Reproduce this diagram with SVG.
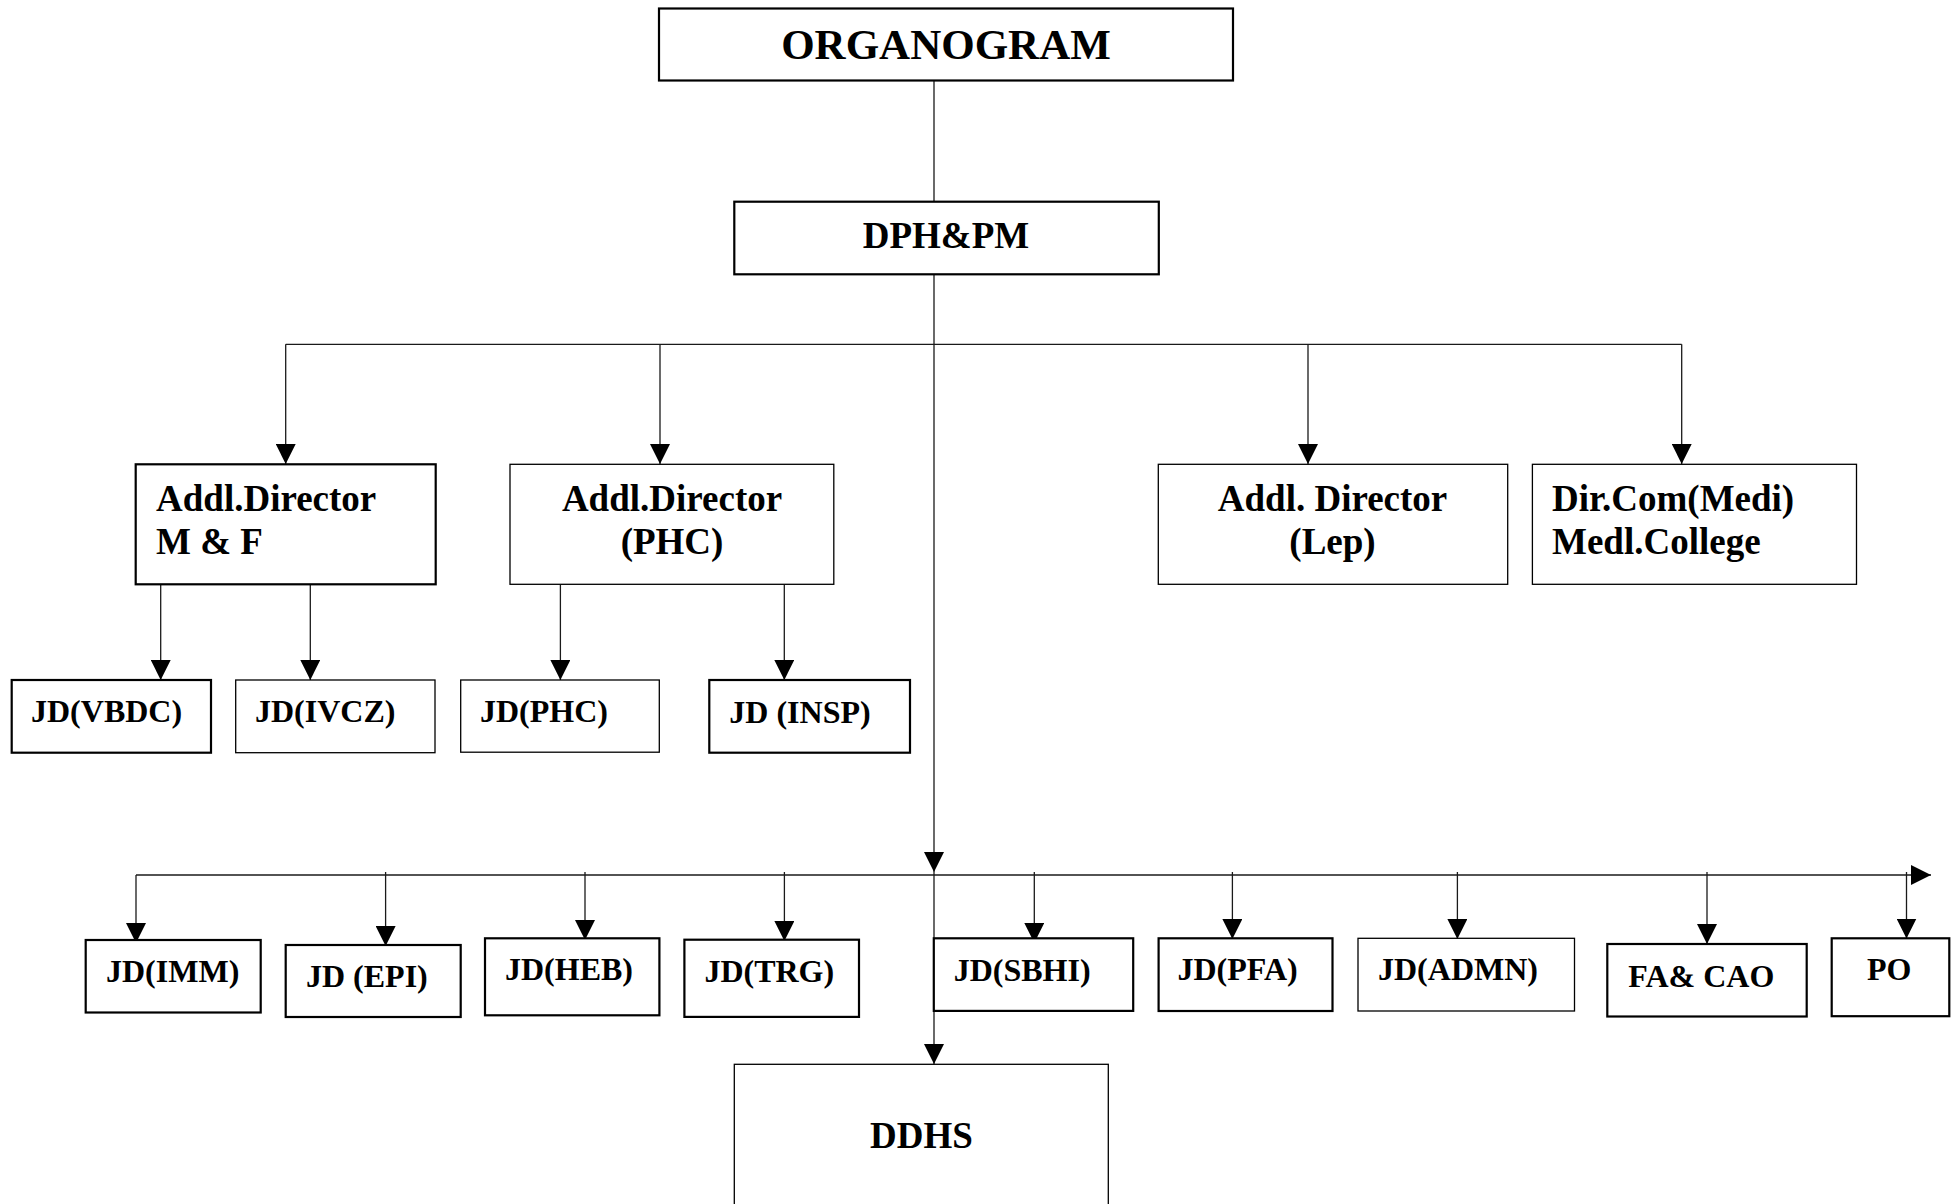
<svg xmlns="http://www.w3.org/2000/svg" width="1953" height="1204" viewBox="0 0 1953 1204">
<style>
  .box { fill: #ffffff; stroke: #000; }
  .thick { stroke-width: 2.2; }
  .thin { stroke-width: 1.3; }
  .t { font-family: "Liberation Serif", "Times New Roman", serif; font-weight: bold; fill: #000; }
  .s32 { font-size: 32px; }
  .s37 { font-size: 37px; }
  .mid { text-anchor: middle; }
  .con { fill: none; stroke: #1a1a1a; stroke-width: 1.3; }
</style>
<defs>
  <marker id="arr" viewBox="0 0 20 20" markerWidth="20" markerHeight="20" refX="20" refY="10" orient="auto" markerUnits="userSpaceOnUse">
    <path d="M0,0 L20,10 L0,20 Z" fill="#000"/>
  </marker>
</defs>
<rect width="1953" height="1204" fill="#ffffff"/>

<g id="connectors">
  <line class="con" x1="934" y1="80" x2="934" y2="202"/>
  <line class="con" x1="934" y1="274" x2="934" y2="872" marker-end="url(#arr)"/>
  <line class="con" x1="934" y1="872" x2="934" y2="1064" marker-end="url(#arr)"/>
  <line class="con" x1="285.7" y1="344.3" x2="1681.7" y2="344.3"/>
  <line class="con" x1="285.7" y1="344.3" x2="285.7" y2="464" marker-end="url(#arr)"/>
  <line class="con" x1="660" y1="344.3" x2="660" y2="464" marker-end="url(#arr)"/>
  <line class="con" x1="1308" y1="344.3" x2="1308" y2="464" marker-end="url(#arr)"/>
  <line class="con" x1="1681.7" y1="344.3" x2="1681.7" y2="464" marker-end="url(#arr)"/>
  <line class="con" x1="160.7" y1="585" x2="160.7" y2="680" marker-end="url(#arr)"/>
  <line class="con" x1="310.3" y1="585" x2="310.3" y2="680" marker-end="url(#arr)"/>
  <line class="con" x1="560.4" y1="585" x2="560.4" y2="680" marker-end="url(#arr)"/>
  <line class="con" x1="784.3" y1="585" x2="784.3" y2="680" marker-end="url(#arr)"/>
  <line class="con" x1="136" y1="875" x2="1931" y2="875" marker-end="url(#arr)"/>
  <line class="con" x1="136" y1="875" x2="136" y2="943" marker-end="url(#arr)"/>
  <line class="con" x1="385.6" y1="872" x2="385.6" y2="946" marker-end="url(#arr)"/>
  <line class="con" x1="585" y1="872" x2="585" y2="940" marker-end="url(#arr)"/>
  <line class="con" x1="784.4" y1="872" x2="784.4" y2="941" marker-end="url(#arr)"/>
  <line class="con" x1="1034.3" y1="872" x2="1034.3" y2="943" marker-end="url(#arr)"/>
  <line class="con" x1="1232.4" y1="872" x2="1232.4" y2="939" marker-end="url(#arr)"/>
  <line class="con" x1="1457.4" y1="872" x2="1457.4" y2="939" marker-end="url(#arr)"/>
  <line class="con" x1="1707" y1="872" x2="1707" y2="944" marker-end="url(#arr)"/>
  <line class="con" x1="1906.5" y1="872" x2="1906.5" y2="938.5" marker-end="url(#arr)"/>
</g>

<g id="organogram">
  <rect class="box thick" x="659" y="8.5" width="574" height="72"/>
  <text class="t mid" x="946" y="59" font-size="43">ORGANOGRAM</text>
</g>
<g id="dphpm">
  <rect class="box thick" x="734.3" y="201.7" width="424.5" height="72.6"/>
  <text class="t s37 mid" x="946" y="248">DPH&amp;PM</text>
</g>

<g id="addl-mf">
  <rect class="box thick" x="135.7" y="464.3" width="300" height="120"/>
  <text class="t s37" x="156" y="511">Addl.Director</text>
  <text class="t s37" x="156" y="554">M &amp; F</text>
</g>
<g id="addl-phc">
  <rect class="box thin" x="510" y="464.3" width="323.8" height="120"/>
  <text class="t s37 mid" x="672" y="511">Addl.Director</text>
  <text class="t s37 mid" x="672" y="554">(PHC)</text>
</g>
<g id="addl-lep">
  <rect class="box thin" x="1158.3" y="464.3" width="349.4" height="120"/>
  <text class="t s37 mid" x="1332.5" y="511">Addl. Director</text>
  <text class="t s37 mid" x="1332.5" y="554">(Lep)</text>
</g>
<g id="dircom">
  <rect class="box thin" x="1532.4" y="464.3" width="324.1" height="120"/>
  <text class="t s37" x="1552" y="511">Dir.Com(Medi)</text>
  <text class="t s37" x="1552" y="554">Medl.College</text>
</g>

<g id="jd-vbdc">
  <rect class="box thick" x="11.7" y="680" width="199.3" height="72.7"/>
  <text class="t s32" x="31" y="722">JD(VBDC)</text>
</g>
<g id="jd-ivcz">
  <rect class="box thin" x="235.7" y="680" width="199.3" height="72.7"/>
  <text class="t s32" x="255" y="722">JD(IVCZ)</text>
</g>
<g id="jd-phc">
  <rect class="box thin" x="460.7" y="680" width="198.6" height="72.2"/>
  <text class="t s32" x="480" y="722">JD(PHC)</text>
</g>
<g id="jd-insp">
  <rect class="box thick" x="709.3" y="680" width="200.7" height="72.7"/>
  <text class="t s32" x="729.3" y="723">JD (INSP)</text>
</g>

<g id="jd-imm">
  <rect class="box thick" x="85.7" y="940" width="175" height="72.5"/>
  <text class="t s32" x="106" y="982">JD(IMM)</text>
</g>
<g id="jd-epi">
  <rect class="box thick" x="285.7" y="945" width="175" height="72"/>
  <text class="t s32" x="306" y="987">JD (EPI)</text>
</g>
<g id="jd-heb">
  <rect class="box thick" x="485" y="938.3" width="174.4" height="77"/>
  <text class="t s32" x="505" y="980">JD(HEB)</text>
</g>
<g id="jd-trg">
  <rect class="box thick" x="684.4" y="939.7" width="174.6" height="77.2"/>
  <text class="t s32" x="704.4" y="982">JD(TRG)</text>
</g>
<g id="jd-sbhi">
  <rect class="box thick" x="933.8" y="938.3" width="199.4" height="72.6"/>
  <text class="t s32" x="953.7" y="981">JD(SBHI)</text>
</g>
<g id="jd-pfa">
  <rect class="box thick" x="1158.6" y="938.3" width="173.9" height="72.7"/>
  <text class="t s32" x="1177.4" y="980">JD(PFA)</text>
</g>
<g id="jd-admn">
  <rect class="box thin" x="1358" y="938.3" width="216.5" height="72.7"/>
  <text class="t s32" x="1378" y="980">JD(ADMN)</text>
</g>
<g id="fa-cao">
  <rect class="box thick" x="1607.3" y="944" width="199.4" height="72.5"/>
  <text class="t s32" x="1628.3" y="987">FA&amp; CAO</text>
</g>
<g id="po">
  <rect class="box thick" x="1831.7" y="938.3" width="117.6" height="77.9"/>
  <text class="t s32" x="1867" y="980">PO</text>
</g>

<g id="ddhs">
  <rect class="box thin" x="734.3" y="1064.3" width="374" height="150"/>
  <text class="t s37" x="870" y="1147.5">DDHS</text>
</g>
</svg>
